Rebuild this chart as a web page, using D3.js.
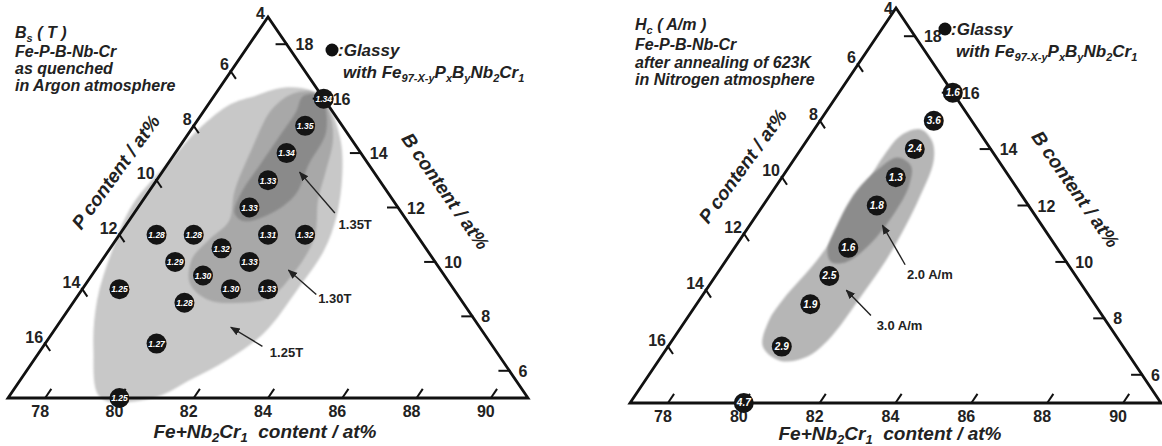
<!DOCTYPE html>
<html><head><meta charset="utf-8">
<script src="https://cdn.jsdelivr.net/npm/d3@7"></script>
<style>
html,body{margin:0;padding:0;background:#fff;}
svg{display:block;}
text{font-family:"Liberation Sans",Arial,sans-serif;}
</style></head><body>
<svg id="chart" width="1162" height="446"></svg>
<script>
// Fe(97-x-y) Px By Nb2 Cr1 : every composition is [P at%, B at%], Fe+Nb2Cr1 = 100 - P - B
const feTicks = [78, 80, 82, 84, 86, 88, 90];
const pTicks  = [4, 6, 8, 10, 12, 14, 16];
const bTicks  = [6, 8, 10, 12, 14, 16, 18];

// saturation magnetization Bs (T), as quenched
const bsP = [4, 5, 6, 7, 8, 11, 10, 8, 7, 9.5, 11, 9, 10.5, 13, 10, 9, 11.5, 13, 15];
const bsB = [16, 15, 14, 13, 12, 11, 11, 11, 11, 10.5, 10, 10, 9.5, 9, 9, 9, 8.5, 7, 5];
const bsV = [1.34, 1.35, 1.34, 1.33, 1.33, 1.28, 1.28, 1.31, 1.32, 1.32, 1.29, 1.33, 1.30, 1.25, 1.30, 1.33, 1.28, 1.27, 1.25];

// coercivity Hc (A/m), annealed at 623 K
const hcP = [4, 5, 6, 7, 8, 9.5, 10.5, 11.5, 13, 15];
const hcB = [16, 15, 14, 13, 12, 10.5, 9.5, 8.5, 7, 5];
const hcV = [1.6, 3.6, 2.4, 1.3, 1.8, 1.6, 2.5, 1.9, 2.9, 4.7];

// contour regions, outlines as [P, B]
const bsRegion125 = [[15.5,5.0],[14.8,6.8],[13.8,8.6],[12.5,10.4],[11.1,12.1],[9.3,13.7],[7.9,14.9],[6.6,15.8],[5.8,16.1],[4.9,16.4],[4.2,16.3],[4.0,15.8],[4.3,14.5],[4.9,13.2],[5.8,11.7],[6.8,10.4],[8.2,9.0],[9.9,7.4],[11.4,6.4],[12.7,5.7],[14.1,5.0]];
const bsRegion130 = [[11.0,9.2],[10.5,10.1],[9.7,10.8],[8.8,11.5],[8.1,12.6],[6.9,14.1],[5.6,15.6],[4.7,16.2],[4.1,16.2],[4.1,15.5],[4.5,14.5],[5.3,13.3],[6.0,12.3],[6.8,10.9],[8.0,9.6],[9.1,8.7],[10.0,8.5],[10.8,8.6]];
const bsRegion135 = [[8.5,11.8],[7.9,12.6],[7.0,13.5],[5.9,14.6],[5.0,15.5],[4.5,16.1],[4.0,16.1],[4.1,15.7],[4.6,14.7],[5.6,13.6],[6.5,12.5],[7.5,11.8],[8.4,11.5]];
const hcRegion30 = [[13.5,7.0],[12.9,7.9],[12.1,8.7],[10.5,10.1],[8.8,11.8],[6.9,13.8],[6.1,14.5],[5.5,14.7],[5.4,14.3],[5.7,13.6],[6.8,12.2],[8.4,10.4],[9.9,8.9],[11.7,7.2],[12.6,6.6],[13.3,6.5]];
const hcRegion20 = [[10.1,10.4],[9.4,11.3],[8.3,12.5],[7.3,13.3],[6.6,13.7],[6.4,13.4],[6.8,12.7],[7.7,11.7],[8.9,10.6],[9.8,10.0],[10.2,10.0]];

// contour level call-outs: arrow tip, arrow tail, label anchor
const bsNoteText = ["1.35T", "1.30T", "1.25T"];
const bsNoteTip  = [[6.0,13.3],[8.1,9.7],[10.7,7.6]];
const bsNoteTail = [[5.8,11.8],[7.8,8.8],[10.2,6.9]];
const bsNoteAt   = [[6.0,11.2],[7.9,8.5],[10.2,6.5]];
const hcNoteText = ["2.0 A/m", "3.0 A/m"];
const hcNoteTip  = [[8.2,11.3],[10.3,9.0]];
const hcNoteTail = [[8.3,9.9],[10.1,8.1]];
const hcNoteAt   = [[8.5,9.4],[10.2,7.6]];

const svg = d3.select("#chart");
const defs = svg.append("defs");
defs.append("marker").attr("id", "head").attr("viewBox", "0 0 10 10")
  .attr("refX", 9).attr("refY", 5).attr("markerWidth", 7).attr("markerHeight", 7)
  .attr("orient", "auto")
  .append("path").attr("d", "M0,1 L10,5 L0,9 Z").attr("fill", "#222");
defs.append("filter").attr("id", "soft")
  .append("feGaussianBlur").attr("stdDeviation", 1.3);

function richText(sel, parts, subSize) {
  let down = false;
  parts.forEach(([t, sub]) => {
    const ts = sel.append("tspan").text(t);
    if (sub) { ts.attr("font-size", subSize).attr("dy", 4); down = true; }
    else if (down) { ts.attr("dy", -4); down = false; }
  });
}

function panel(cfg) {
  const g = svg.append("g");
  const [T, L, R] = [cfg.T, cfg.L, cfg.R];
  // barycentric weights of the apex (B) and of the lower-left corner (P)
  const wB = d3.scaleLinear().domain([5, 19]).range([0, 1]);
  const wP = d3.scaleLinear().domain([4, 18]).range([0, 1]);
  const px = (p, b) => R[0] + wB(b) * (T[0] - R[0]) + wP(p) * (L[0] - R[0]);
  const py = (p, b) => R[1] + wB(b) * (T[1] - R[1]) + wP(p) * (L[1] - R[1]);
  const pt = d => [px(d[0], d[1]), py(d[0], d[1])];

  const shape = d3.line().x(d => px(d[0], d[1])).y(d => py(d[0], d[1]))
    .curve(d3.curveCatmullRomClosed.alpha(0.5));
  cfg.regions.forEach(r => {
    g.append("path").attr("d", shape(r.pts)).attr("fill", r.fill).attr("filter", "url(#soft)");
  });

  // triangle frame
  g.append("path").attr("d", `M${L}L${T}L${R}Z`).attr("fill", "none")
    .attr("stroke", "#111").attr("stroke-width", 2.8).attr("stroke-linejoin", "miter");

  const lenLT = Math.hypot(T[0] - L[0], T[1] - L[1]);
  const dLT = [(T[0] - L[0]) / lenLT, (T[1] - L[1]) / lenLT];
  const lenTR = Math.hypot(R[0] - T[0], R[1] - T[1]);
  const dTR = [(R[0] - T[0]) / lenTR, (R[1] - T[1]) / lenTR];
  const tickStyle = s => s.attr("stroke", "#111").attr("stroke-width", 2);
  const lbl = s => s.attr("font-size", 16).attr("font-weight", "bold").attr("fill", "#222");

  // bottom axis: Fe+Nb2Cr1 along the edge B = 5
  feTicks.forEach(fe => {
    const b = 5, p = 100 - fe - b;
    const [x, y] = pt([p, b]);
    g.append("line").attr("x1", x).attr("y1", y).attr("x2", x + dLT[0] * 11).attr("y2", y + dLT[1] * 11).call(tickStyle);
    g.append("text").attr("x", x - 5).attr("y", y + 19).attr("text-anchor", "middle").text(fe).call(lbl);
  });
  // left axis: P along the edge Fe+Nb2Cr1 = 77
  pTicks.forEach(p => {
    const b = 100 - 77 - p;
    const [x, y] = pt([p, b]);
    if (p > 4) {
      g.append("line").attr("x1", x - dTR[0] * 1.5).attr("y1", y - dTR[1] * 1.5)
        .attr("x2", x + dTR[0] * 9).attr("y2", y + dTR[1] * 9).call(tickStyle);
      g.append("text").attr("x", x - 2).attr("y", y - 1).attr("text-anchor", "end").text(p).call(lbl);
    } else {
      g.append("text").attr("x", x - 3).attr("y", Math.max(y + 2, 14)).attr("text-anchor", "end").text(p).call(lbl);
    }
  });
  // right axis: B along the edge P = 4
  bTicks.forEach(b => {
    const [x, y] = pt([4, b]);
    g.append("line").attr("x1", x - 11).attr("y1", y).attr("x2", x + 1).attr("y2", y).call(tickStyle);
    g.append("text").attr("x", x + 9).attr("y", y + 6).text(b).call(lbl);
  });

  // axis titles
  const ttl = s => s.attr("font-size", 19).attr("font-weight", "bold").attr("font-style", "italic").attr("fill", "#222");
  const bt = g.append("text").attr("x", cfg.feTitle[0]).attr("y", cfg.feTitle[1]).attr("text-anchor", "middle").call(ttl);
  richText(bt, [["Fe+Nb"], ["2", 1], ["Cr"], ["1", 1], ["\u00a0\u00a0content / at%"]], 13);
  g.append("text").attr("transform", `translate(${cfg.pTitle[0]},${cfg.pTitle[1]}) rotate(-54)`)
    .attr("text-anchor", "middle").text("P content / at%").call(ttl);
  g.append("text").attr("transform", `translate(${cfg.bTitle[0]},${cfg.bTitle[1]}) rotate(55)`)
    .attr("text-anchor", "middle").text("B content / at%").call(ttl);

  // call-outs
  cfg.notes.text.forEach((t, i) => {
    const a = pt(cfg.notes.tail[i]), b = pt(cfg.notes.tip[i]), c = pt(cfg.notes.at[i]);
    g.append("line").attr("x1", a[0]).attr("y1", a[1]).attr("x2", b[0]).attr("y2", b[1])
      .attr("stroke", "#222").attr("stroke-width", 1.4).attr("marker-end", "url(#head)");
    g.append("text").attr("x", c[0]).attr("y", c[1]).text(t)
      .attr("font-size", 13).attr("font-weight", "bold").attr("fill", "#222");
  });

  // glassy samples
  const fmt = d3.format(cfg.fmt);
  cfg.P.forEach((p, i) => {
    const [x, y] = pt([p, cfg.B[i]]);
    g.append("circle").attr("cx", x).attr("cy", y).attr("r", 10).attr("fill", "#141414");
    g.append("text").attr("x", x).attr("y", y + 3.3).attr("text-anchor", "middle")
      .attr("font-family", "Liberation Serif, serif").attr("font-style", "italic").attr("font-weight", "bold")
      .attr("font-size", cfg.fmt === ".2f" ? 8.5 : 10).attr("fill", "#fff").text(fmt(cfg.V[i]));
  });

  // legend
  const lg = cfg.legend;
  g.append("circle").attr("cx", lg[0]).attr("cy", lg[1]).attr("r", 6.5).attr("fill", "#111");
  const ltxt = s => s.attr("font-size", 17).attr("font-weight", "bold").attr("font-style", "italic").attr("fill", "#222");
  g.append("text").attr("x", lg[0] + 6).attr("y", lg[1] + 6).text(":Glassy").call(ltxt);
  const wt = g.append("text").attr("x", lg[0] + 11).attr("y", lg[1] + 28).call(ltxt);
  richText(wt, [["with Fe"], ["97-X-y", 1], ["P"], ["x", 1], ["B"], ["y", 1], ["Nb"], ["2", 1], ["Cr"], ["1", 1]], 11);

  // panel heading
  const hd = cfg.heading;
  hd.lines.forEach((ln, i) => {
    const t = g.append("text").attr("x", hd.x).attr("y", hd.y[i]).call(ltxt).attr("font-size", 16);
    richText(t, ln, 11);
  });
}

panel({
  T: [268, 17], L: [8, 398], R: [528, 398],
  regions: [
    { pts: bsRegion125, fill: "#c8c8c8" },
    { pts: bsRegion130, fill: "#a8a8a8" },
    { pts: bsRegion135, fill: "#8a8a8a" }
  ],
  notes: { text: bsNoteText, tip: bsNoteTip, tail: bsNoteTail, at: bsNoteAt },
  P: bsP, B: bsB, V: bsV, fmt: ".2f",
  feTitle: [265, 438], pTitle: [121, 176], bTitle: [440, 195],
  legend: [332, 50],
  heading: { x: 15, y: [38, 57, 74, 91],
    lines: [[["B"], ["s", 1], [" ( T )"]], [["Fe-P-B-Nb-Cr"]], [["as quenched"]], [["in Argon atmosphere"]]] }
});

panel({
  T: [896, 8], L: [630, 403], R: [1161, 403],
  regions: [
    { pts: hcRegion30, fill: "#b6b6b6" },
    { pts: hcRegion20, fill: "#8c8c8c" }
  ],
  notes: { text: hcNoteText, tip: hcNoteTip, tail: hcNoteTail, at: hcNoteAt },
  P: hcP, B: hcB, V: hcV, fmt: ".1f",
  feTitle: [890, 440], pTitle: [748, 170], bTitle: [1070, 193],
  legend: [945, 29],
  heading: { x: 635, y: [30, 50, 68, 85],
    lines: [[["H"], ["c", 1], [" ( A/m )"]], [["Fe-P-B-Nb-Cr"]], [["after annealing of 623K"]], [["in Nitrogen atmosphere"]]] }
});
</script>
</body></html>
